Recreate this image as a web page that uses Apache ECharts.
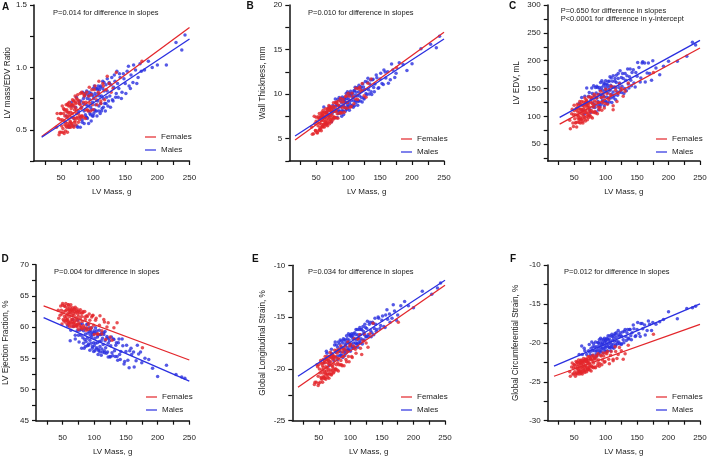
<!DOCTYPE html>
<html>
<head>
<meta charset="utf-8">
<script src="https://cdn.jsdelivr.net/npm/echarts@6/dist/echarts.min.js"></script>
<style>
  html, body { margin: 0; padding: 0; background: #fff; }
  #chart { width: 709px; height: 458px; }
</style>
</head>
<body>
<div id="chart"></div>
<script>
// LV mass of each subject (g), same people in every panel
const femaleMass = [43,46,48,49,50,51,52,53,54,55,55,56,56,57,58,58,59,60,60,60,61,62,62,63,64,64,65,65,66,66,67,67,68,69,69,70,71,71,72,72,73,74,74,75,76,77,78,79,80,81,82,83,85,86,88,89,91,93,95,97,99,102,105,108,112,116,120,125,131,176,
  44,47,49,50,52,53,54,55,56,57,58,59,59,60,61,61,62,63,63,64,65,66,67,68,68,69,70,70,71,72,73,73,74,75,76,77,78,79,80,81,82,84,85,87,88,90,92,94,96,98,100,103,106,109,112,115,118,122,128,136];
const maleMass = [58,63,67,70,73,75,77,79,80,82,83,85,86,87,88,89,90,91,92,93,94,95,95,96,97,98,99,100,100,101,102,103,104,105,105,106,107,108,109,110,111,112,113,114,115,116,117,118,120,121,122,124,125,126,128,130,132,134,136,138,140,142,145,148,150,153,156,159,162,166,170,175,180,186,192,200,214,229,238,243,
  62,66,70,74,76,78,80,81,83,84,85,86,88,89,90,91,92,93,94,96,97,98,99,100,101,102,103,104,106,107,108,109,110,111,112,113,115,116,117,119,120,122,123,125,127,129,131,133,135,137,139,141,144,147,151,155,158,163,168,173];

// A: LV mass / EDV ratio
const femaleRatio = [0.52,0.59,0.48,0.58,0.63,0.53,0.58,0.48,0.63,0.57,0.66,0.54,0.61,0.56,0.65,0.53,0.61,0.64,0.55,0.70,0.59,0.64,0.53,0.62,0.69,0.57,0.64,0.56,0.67,0.60,0.70,0.54,0.63,0.69,0.60,0.73,0.59,0.66,0.57,0.68,0.71,0.63,0.66,0.60,0.78,0.63,0.71,0.61,0.70,0.67,0.80,0.61,0.72,0.77,0.66,0.72,0.66,0.77,0.71,0.78,0.70,0.82,0.74,0.80,0.73,0.85,0.82,0.87,0.83,1.05,
  0.63,0.46,0.63,0.48,0.69,0.51,0.67,0.47,0.66,0.49,0.70,0.52,0.66,0.48,0.71,0.53,0.69,0.52,0.72,0.55,0.52,0.70,0.55,0.74,0.53,0.70,0.52,0.73,0.56,0.77,0.72,0.54,0.75,0.59,0.74,0.56,0.73,0.58,0.79,0.60,0.61,0.79,0.60,0.78,0.59,0.80,0.65,0.84,0.65,0.82,0.66,0.85,0.70,0.89,0.71,0.87,0.74,0.93,0.80,0.96];
const maleRatio = [0.61,0.53,0.69,0.59,0.68,0.53,0.65,0.71,0.60,0.68,0.58,0.71,0.65,0.77,0.62,0.70,0.60,0.75,0.69,0.65,0.77,0.63,0.74,0.68,0.79,0.66,0.72,0.61,0.77,0.75,0.66,0.79,0.70,0.77,0.65,0.83,0.73,0.79,0.69,0.77,0.84,0.71,0.77,0.67,0.83,0.75,0.81,0.71,0.86,0.76,0.81,0.73,0.87,0.77,0.86,0.74,0.84,0.89,0.79,0.87,0.83,0.92,0.80,0.91,0.87,0.97,0.85,0.94,0.88,0.98,0.92,0.97,0.98,1.05,1.00,1.02,1.02,1.20,1.14,1.26,
  0.52,0.72,0.53,0.76,0.52,0.73,0.52,0.73,0.56,0.80,0.75,0.55,0.79,0.60,0.81,0.59,0.78,0.55,0.80,0.62,0.57,0.78,0.61,0.83,0.63,0.85,0.65,0.83,0.61,0.82,0.85,0.65,0.82,0.63,0.85,0.65,0.89,0.68,0.88,0.65,0.71,0.91,0.69,0.88,0.68,0.92,0.73,0.94,0.76,0.97,0.76,0.95,0.75,0.95,0.79,1.01,0.83,1.02,0.87,1.03];

// B: wall thickness (mm)
const femaleWall = [6.32,5.55,6.69,5.90,6.96,5.70,6.85,6.46,7.33,6.00,7.17,6.73,7.33,6.10,7.05,6.61,7.70,7.38,6.39,7.60,7.04,7.42,6.60,7.64,6.97,7.91,6.86,7.47,7.19,7.96,7.79,6.80,7.68,7.12,8.39,7.34,8.16,7.67,6.95,8.44,7.61,8.26,7.27,8.09,7.54,8.64,8.08,7.37,8.46,8.08,9.12,7.79,8.78,8.61,7.95,9.15,8.48,9.08,8.47,9.79,9.07,9.77,8.61,9.70,9.46,10.61,10.43,9.81,11.22,12.95,
  5.50,7.52,5.92,7.41,5.63,7.45,5.90,7.83,6.23,7.55,5.89,7.98,6.32,7.87,6.32,8.20,6.65,6.31,7.97,6.64,8.35,6.53,8.07,6.46,8.34,6.79,8.72,8.28,6.68,8.60,7.16,8.54,6.88,8.42,7.10,9.03,7.31,7.42,9.07,7.31,8.96,7.29,9.22,7.89,9.54,7.88,9.42,7.98,9.73,8.41,10.11,8.50,10.09,8.92,10.67,9.40,10.77,11.19,9.64,11.70];
const maleWall = [7.40,7.40,8.00,7.49,8.05,7.84,8.41,8.09,8.67,8.11,8.75,8.13,8.71,8.10,9.29,8.55,9.02,8.17,9.35,8.68,9.15,8.53,9.43,9.12,8.39,9.51,8.84,9.79,8.65,9.41,9.04,9.99,8.77,9.78,9.30,10.01,8.73,9.62,9.25,10.37,9.88,9.27,10.21,9.78,10.73,9.21,10.28,9.79,10.72,9.63,10.45,10.79,9.45,10.52,10.07,11.37,10.50,11.13,10.27,11.62,10.75,11.15,11.83,10.71,11.70,11.18,12.70,11.82,12.50,11.61,12.70,12.33,13.52,13.32,12.64,13.40,15.10,15.60,15.20,16.50,
  8.55,6.64,8.57,6.89,8.73,7.32,9.45,9.02,7.37,9.40,7.83,9.61,7.85,9.51,7.52,9.67,8.09,7.72,9.57,8.10,10.07,8.31,10.28,8.53,10.07,8.20,10.05,10.33,8.63,10.11,8.54,10.39,8.69,10.78,9.03,10.69,8.75,9.27,11.00,9.23,10.84,9.13,11.16,9.57,11.41,9.94,11.77,10.01,11.60,9.95,11.67,10.26,12.14,10.66,12.35,11.09,12.49,11.23,13.38,11.88];

// C: LV EDV (mL)
const femaleEdv = [93,105,88,103,110,96,103,89,111,102,116,97,108,101,114,95,108,113,98,121,105,113,96,109,120,103,113,100,117,107,122,98,111,120,107,126,106,116,103,119,123,111,117,108,126,111,124,108,122,117,128,109,126,133,117,125,116,134,125,135,123,141,130,139,112,147,141,150,145,179,
  78,113,82,120,88,114,81,122,90,120,89,127,95,88,121,94,127,91,120,88,126,95,133,125,92,130,100,128,94,125,98,135,101,102,135,99,132,97,135,107,140,106,135,105,139,112,145,111,141,115,149,122,148,154,119,153,127,158,136,160];
const maleEdv = [123,111,136,122,136,112,131,141,124,137,121,142,133,152,127,140,124,148,139,134,152,129,147,138,156,135,145,127,152,148,135,156,142,152,133,163,147,156,140,153,163,144,153,138,163,151,161,144,168,152,160,148,170,154,168,150,165,173,158,171,165,179,160,179,172,188,169,198,196,178,177,200,187,175,190,199,199,208,233,228,
  134,104,151,143,107,151,117,155,116,152,108,154,120,112,152,118,161,122,164,127,160,119,158,164,126,158,123,163,126,171,133,169,125,136,173,133,168,130,174,138,177,144,182,143,177,141,177,146,185,151,185,155,184,153,197,162,196,162,196,165];

// D: LV ejection fraction (%)
const femaleEf = [62.7,61.9,62.7,62.1,63.5,61.2,62.5,61.7,63.3,61.4,62.6,61.8,62.8,61.1,62.1,61.3,63.6,62.3,60.7,62.7,61.7,62.2,60.8,62.4,61.2,62.7,60.9,61.9,61.3,62.6,62.2,60.6,61.9,60.8,62.9,61.1,62.3,61.5,60.2,62.6,61.1,62.1,60.5,61.7,60.7,62.3,61.3,60.0,61.7,60.9,62.5,60.2,61.6,61.2,59.9,61.7,60.4,61.1,59.9,61.8,60.3,61.1,58.9,60.3,59.4,60.8,60.0,58.4,59.9,56.7,
  61.4,63.4,60.5,63.8,61.0,63.4,60.8,63.8,61.1,60.5,63.1,60.9,63.6,60.5,62.8,60.1,63.2,60.5,63.6,62.8,60.1,63.1,60.6,62.9,60.1,62.5,60.2,63.2,60.3,60.4,62.9,60.0,62.5,59.6,62.6,60.3,62.8,59.9,62.2,59.7,62.3,59.9,62.5,59.5,61.8,59.6,62.1,59.7,61.6,61.9,58.8,61.4,58.9,61.8,58.9,61.2,58.0,60.7,57.9,60.7];
const maleEf = [60.2,59.5,60.1,58.7,59.4,58.7,59.5,58.7,59.6,58.3,59.4,58.0,58.9,57.7,59.7,58.2,59.0,57.3,59.3,57.9,58.7,57.4,59.1,58.4,56.9,58.8,57.5,59.1,57.0,58.2,57.4,59.0,56.7,58.4,57.5,58.7,56.2,57.7,56.9,58.8,57.8,56.5,58.2,57.2,58.8,55.9,57.8,56.7,58.2,56.0,57.4,57.8,55.2,57.0,55.9,58.1,56.2,57.1,55.3,57.5,55.6,56.1,57.0,54.5,56.1,54.7,56.2,55.6,56.0,54.6,55.7,54.3,55.0,54.8,53.4,52.1,53.9,52.4,52.0,51.8,
  57.8,61.2,58.1,61.1,57.6,60.5,56.6,60.5,57.4,56.6,59.8,56.9,60.4,57.0,60.5,57.1,59.9,56.3,59.5,59.9,56.6,59.1,56.1,59.4,56.2,59.9,56.5,59.4,55.6,56.4,59.5,56.0,58.8,55.5,59.1,56.0,59.1,56.2,59.3,55.8,58.5,55.2,58.2,55.3,58.4,55.4,58.0,55.3,57.5,54.7,58.1,54.8,58.1,54.1,57.1,53.5,56.6,53.6,57.1,56.0];

// E: global longitudinal strain (%)
const femaleGls = [-21.5,-21.3,-19.8,-20.7,-21.4,-20.0,-20.4,-19.4,-20.8,-20.1,-21.0,-19.7,-20.4,-19.9,-20.7,-19.4,-20.2,-20.4,-19.4,-20.9,-19.8,-20.2,-19.1,-19.9,-20.5,-19.4,-20.0,-19.2,-20.2,-19.5,-20.5,-18.8,-19.6,-20.1,-19.3,-20.5,-19.0,-19.7,-18.7,-19.8,-20.0,-19.1,-19.5,-18.8,-20.0,-18.9,-19.6,-18.5,-19.4,-19.0,-19.6,-18.2,-19.2,-19.6,-18.4,-18.8,-18.1,-19.1,-18.3,-18.8,-17.8,-18.8,-17.8,-18.1,-17.1,-18.0,-17.3,-17.5,-16.6,-15.5,
  -21.3,-19.6,-21.6,-19.6,-21.3,-19.2,-20.9,-19.5,-21.3,-19.1,-20.8,-19.2,-20.9,-18.8,-20.5,-21.0,-19.1,-20.6,-18.8,-20.8,-19.1,-20.9,-18.8,-20.5,-18.4,-18.9,-20.6,-18.6,-20.2,-18.6,-20.4,-18.8,-20.3,-18.2,-20.1,-20.0,-18.2,-20.1,-18.3,-20.2,-18.1,-19.6,-17.8,-19.7,-18.1,-19.7,-17.8,-19.3,-17.4,-19.3,-17.6,-18.9,-17.1,-18.5,-17.1,-16.7,-18.6,-16.6,-17.9,-15.6];
const maleGls = [-19.4,-18.5,-19.3,-18.5,-18.9,-17.7,-18.4,-18.8,-17.9,-18.3,-17.6,-18.4,-17.9,-18.7,-17.5,-18.0,-17.2,-18.2,-17.7,-17.5,-18.2,-17.1,-17.9,-17.4,-18.2,-17.2,-17.6,-16.7,-17.8,-17.6,-16.9,-17.8,-17.1,-17.5,-16.6,-17.9,-17.1,-17.5,-16.7,-17.2,-17.6,-16.7,-17.0,-16.2,-17.3,-16.7,-17.1,-16.2,-17.2,-16.4,-16.7,-16.0,-16.9,-16.1,-16.7,-15.7,-16.3,-16.5,-15.6,-16.1,-15.7,-16.2,-15.1,-15.8,-15.3,-15.9,-14.8,-15.2,-14.7,-15.1,-14.4,-14.8,-13.9,-13.5,-13.9,-14.1,-12.5,-12.8,-12.2,-11.7,
  -18.3,-19.7,-18.1,-19.2,-17.4,-17.7,-19.1,-17.4,-18.7,-17.2,-18.7,-17.3,-18.9,-17.1,-18.4,-18.7,-17.2,-18.5,-16.8,-18.2,-16.6,-18.1,-16.8,-18.3,-16.8,-16.6,-18.0,-16.8,-18.0,-16.5,-17.9,-16.2,-17.6,-16.2,-17.9,-17.5,-16.0,-17.5,-16.2,-17.6,-15.9,-17.2,-15.7,-16.9,-15.4,-16.9,-15.5,-16.9,-15.5,-16.7,-15.1,-16.4,-15.0,-16.1,-14.9,-16.0,-14.3,-15.5,-13.8,-15.3];

// F: global circumferential strain (%)
const femaleGcs = [-23.7,-23.1,-24.0,-23.2,-22.8,-23.7,-23.2,-24.0,-22.8,-23.3,-22.5,-23.6,-23.0,-23.4,-22.7,-23.7,-23.0,-22.7,-23.5,-22.3,-23.2,-22.7,-23.7,-23.0,-22.4,-23.3,-22.8,-23.5,-22.5,-23.1,-22.2,-23.6,-22.9,-22.4,-23.1,-22.1,-23.2,-22.6,-23.4,-22.5,-22.2,-22.9,-22.6,-23.1,-22.1,-22.9,-22.2,-23.1,-22.3,-22.6,-22.0,-23.1,-22.1,-21.7,-22.6,-22.2,-22.7,-21.7,-22.2,-21.7,-22.4,-21.4,-22.1,-21.6,-22.1,-21.1,-21.5,-21.0,-21.4,-18.9,
  -24.3,-22.6,-24.0,-22.8,-24.3,-22.4,-23.9,-22.5,-24.0,-22.2,-23.7,-24.0,-22.5,-23.7,-22.2,-23.9,-22.5,-24.0,-22.3,-23.7,-22.0,-22.3,-23.8,-22.1,-23.4,-22.1,-23.7,-22.3,-23.5,-21.8,-23.4,-23.3,-21.8,-23.5,-22.0,-23.6,-21.8,-23.1,-21.6,-23.2,-21.9,-23.2,-21.7,-22.9,-21.4,-23.0,-21.6,-22.8,-21.3,-22.5,-21.3,-21.1,-22.7,-21.1,-22.3,-20.5,-22.0,-20.6,-22.1,-20.3];
const maleGcs = [-21.5,-21.5,-21.0,-21.5,-21.0,-21.2,-20.7,-21.0,-20.5,-21.0,-20.5,-21.0,-20.5,-21.0,-20.0,-20.7,-20.3,-21.0,-20.0,-20.6,-20.2,-20.7,-20.0,-20.2,-20.8,-19.9,-20.5,-19.7,-20.6,-20.0,-20.3,-19.5,-20.5,-19.7,-20.1,-19.5,-20.6,-19.9,-20.2,-19.2,-19.7,-20.2,-19.4,-19.8,-19.0,-20.2,-19.3,-19.8,-19.0,-19.9,-19.2,-19.0,-20.1,-19.2,-19.6,-18.5,-19.2,-18.7,-19.4,-18.3,-19.1,-18.7,-18.2,-19.1,-18.3,-18.8,-17.5,-18.2,-17.7,-18.4,-17.6,-17.4,-17.6,-17.3,-17.0,-16.0,-16.9,-15.6,-15.5,-15.3,
  -20.4,-20.7,-22.2,-20.2,-21.6,-19.9,-21.6,-20.1,-21.9,-19.9,-21.4,-21.7,-20.0,-21.4,-19.6,-21.2,-19.4,-21.0,-19.6,-21.3,-19.6,-19.4,-21.0,-19.6,-21.1,-19.4,-21.0,-19.1,-20.6,-19.1,-21.0,-20.5,-18.9,-20.6,-19.1,-20.7,-18.8,-20.4,-18.7,-20.1,-18.4,-20.1,-18.7,-20.2,-18.6,-20.0,-18.3,-19.7,-18.3,-19.5,-18.3,-19.6,-17.7,-19.2,-17.4,-19.2,-17.5,-19.0,-17.2,-18.4];

// regression lines (end points)
const femaleFitRatio = [[20, 0.447], [250, 1.32]];
const maleFitRatio = [[20, 0.44], [250, 1.227]];
const femaleFitWall = [[17, 4.85], [250, 16.94]];
const maleFitWall = [[17, 5.3], [250, 16.19]];
const femaleFitEdv = [[27, 86.2], [250, 222.8]];
const maleFitEdv = [[27, 98.2], [250, 236.5]];
const femaleFitEf = [[20, 63.4], [250, 54.73]];
const maleFitEf = [[20, 61.52], [250, 51.34]];
const femaleFitGls = [[17, -21.77], [250, -11.93]];
const maleFitGls = [[17, -20.71], [250, -11.45]];
const femaleFitGcs = [[18, -24.29], [250, -17.64]];
const maleFitGcs = [[18, -23.0], [250, -15.0]];

// tick labels
const massLabels = [50, 100, 150, 200, 250];
const massTicks = [25, 50, 75, 100, 125, 150, 175, 200, 225, 250];
const ratioLabels = [0.5, 1.0, 1.5];
const ratioTicks = [0.25, 0.5, 0.75, 1.0, 1.25, 1.5];
const wallLabels = [5, 10, 15, 20];
const wallTicks = [2.5, 5, 7.5, 10, 12.5, 15, 17.5, 20];
const edvLabels = [50, 100, 150, 200, 250, 300];
const edvTicks = [25, 50, 75, 100, 125, 150, 175, 200, 225, 250, 275, 300];
const efLabels = [45, 50, 55, 60, 65, 70];
const efTicks = [45, 47.5, 50, 52.5, 55, 57.5, 60, 62.5, 65, 67.5, 70];
const glsLabels = [-25, -20, -15, -10];
const glsTicks = [-25, -22.5, -20, -17.5, -15, -12.5, -10];
const gcsLabels = [-30, -25, -20, -15, -10];
const gcsTicks = [-30, -27.5, -25, -22.5, -20, -17.5, -15, -12.5, -10];

const RED = '#e3262b';
const BLUE = '#2a2fe0';
const TXT = '#222';
const FONT = '"Liberation Sans", Arial, Helvetica, sans-serif';

const panels = [
  { letter: 'A', pos: [34, 5, 155.5, 156], yName: 'LV mass/EDV Ratio', nameGap: 13,
    yMin: 0.25, yMax: 1.5, yLabels: ratioLabels, yTicks: ratioTicks, digits: 1,
    female: femaleRatio, male: maleRatio, fFit: femaleFitRatio, mFit: maleFitRatio,
    note: 'P=0.014 for difference in slopes', noteAt: [53, 8.5], letterAt: [2, 2], legendAt: [145, 133] },
  { letter: 'B', pos: [289.3, 5, 154.7, 156], yName: 'Wall Thickness, mm', nameGap: 23,
    yMin: 2.5, yMax: 20, yLabels: wallLabels, yTicks: wallTicks, digits: 0,
    female: femaleWall, male: maleWall, fFit: femaleFitWall, mFit: maleFitWall,
    note: 'P=0.010 for difference in slopes', noteAt: [308, 8.5], letterAt: [246.5, 1.5], legendAt: [401, 135] },
  { letter: 'C', pos: [547.7, 5, 152.3, 156], yName: 'LV EDV, mL', nameGap: 27,
    yMin: 20, yMax: 300, yLabels: edvLabels, yTicks: edvTicks, digits: 0,
    female: femaleEdv, male: maleEdv, fFit: femaleFitEdv, mFit: maleFitEdv,
    note: 'P=0.650 for difference in slopes\nP<0.0001 for difference in y-intercept', noteAt: [560.7, 7], letterAt: [509, 1.5], legendAt: [656, 135] },
  { letter: 'D', pos: [36, 264.7, 153.3, 156], yName: 'LV Ejection Fraction, %', nameGap: 26,
    yMin: 45, yMax: 70, yLabels: efLabels, yTicks: efTicks, digits: 0,
    female: femaleEf, male: maleEf, fFit: femaleFitEf, mFit: maleFitEf,
    note: 'P=0.004 for difference in slopes', noteAt: [54, 268], letterAt: [1.5, 254], legendAt: [146, 393] },
  { letter: 'E', pos: [292.3, 265.3, 152.7, 155.4], yName: 'Global Longitudinal Strain, %', nameGap: 26,
    yMin: -25, yMax: -10, yLabels: glsLabels, yTicks: glsTicks, digits: 0,
    female: femaleGls, male: maleGls, fFit: femaleFitGls, mFit: maleFitGls,
    note: 'P=0.034 for difference in slopes', noteAt: [308, 268], letterAt: [252, 254], legendAt: [401, 393] },
  { letter: 'F', pos: [547.7, 265, 152.3, 155.7], yName: 'Global Circumferential Strain, %', nameGap: 28,
    yMin: -30, yMax: -10, yLabels: gcsLabels, yTicks: gcsTicks, digits: 0,
    female: femaleGcs, male: maleGcs, fFit: femaleFitGcs, mFit: maleFitGcs,
    note: 'P=0.012 for difference in slopes', noteAt: [564, 268], letterAt: [510, 254], legendAt: [656, 393] }
];

function pairs(xs, ys) {
  return xs.map((x, i) => [x, ys[i]]);
}

const grid = [], xAxis = [], yAxis = [], series = [], legend = [], graphic = [];

panels.forEach((p, i) => {
  grid.push({ left: p.pos[0], top: p.pos[1], width: p.pos[2], height: p.pos[3], outerBoundsMode: 'none', containLabel: false });

  xAxis.push({
    type: 'value', gridIndex: i, min: 8, max: 250,
    name: 'LV Mass, g', nameLocation: 'middle', nameGap: 27,
    nameTextStyle: { fontSize: 8, color: TXT, fontFamily: FONT },
    axisLine: { show: true, onZero: false, lineStyle: { color: '#111', width: 1.5 } },
    axisTick: { show: true, length: 4, customValues: massTicks, lineStyle: { color: '#111', width: 1.2 } },
    axisLabel: { customValues: massLabels, fontSize: 8, margin: 13, color: TXT, fontFamily: FONT },
    splitLine: { show: false }
  });

  yAxis.push({
    type: 'value', gridIndex: i, min: p.yMin, max: p.yMax,
    name: p.yName, nameLocation: 'middle', nameGap: p.nameGap,
    nameTextStyle: { fontSize: 8.2, color: TXT, fontFamily: FONT },
    axisLine: { show: true, onZero: false, lineStyle: { color: '#111', width: 1.5 } },
    axisTick: { show: true, length: 4, customValues: p.yTicks, lineStyle: { color: '#111', width: 1.2 } },
    axisLabel: {
      customValues: p.yLabels, fontSize: 8, margin: 7, color: TXT, fontFamily: FONT,
      formatter: v => p.digits ? Number(v).toFixed(p.digits) : String(v)
    },
    splitLine: { show: false }
  });

  series.push({
    type: 'scatter', name: 'Males', xAxisIndex: i, yAxisIndex: i,
    data: pairs(maleMass, p.male), symbolSize: 3.5,
    itemStyle: { color: BLUE }, z: 2, silent: true
  });
  series.push({
    type: 'scatter', name: 'Females', xAxisIndex: i, yAxisIndex: i,
    data: pairs(femaleMass, p.female), symbolSize: 3.5,
    itemStyle: { color: RED }, z: 2, silent: true
  });
  series.push({
    type: 'line', name: 'Females', xAxisIndex: i, yAxisIndex: i,
    data: p.fFit, symbol: 'none', lineStyle: { color: RED, width: 1.3 },
    itemStyle: { color: RED }, z: 3, silent: true
  });
  series.push({
    type: 'line', name: 'Males', xAxisIndex: i, yAxisIndex: i,
    data: p.mFit, symbol: 'none', lineStyle: { color: BLUE, width: 1.3 },
    itemStyle: { color: BLUE }, z: 3, silent: true
  });

  legend.push({
    data: ['Females', 'Males'], orient: 'vertical',
    left: p.legendAt[0], top: p.legendAt[1], padding: 0,
    icon: 'rect', itemWidth: 11, itemHeight: 1.5, itemGap: 5,
    selectedMode: false,
    textStyle: { fontSize: 8, color: TXT, fontFamily: FONT }
  });

  graphic.push({
    type: 'text', left: p.letterAt[0], top: p.letterAt[1],
    style: { text: p.letter, font: 'bold 10px ' + FONT, fill: '#111' }
  });
  graphic.push({
    type: 'text', left: p.noteAt[0], top: p.noteAt[1],
    style: { text: p.note, font: '7.5px ' + FONT, fill: TXT, lineHeight: 8 }
  });
});

const chart = echarts.init(document.getElementById('chart'));
chart.setOption({
  animation: false,
  backgroundColor: '#fff',
  grid, xAxis, yAxis, series, legend, graphic
});
</script>
</body>
</html>
